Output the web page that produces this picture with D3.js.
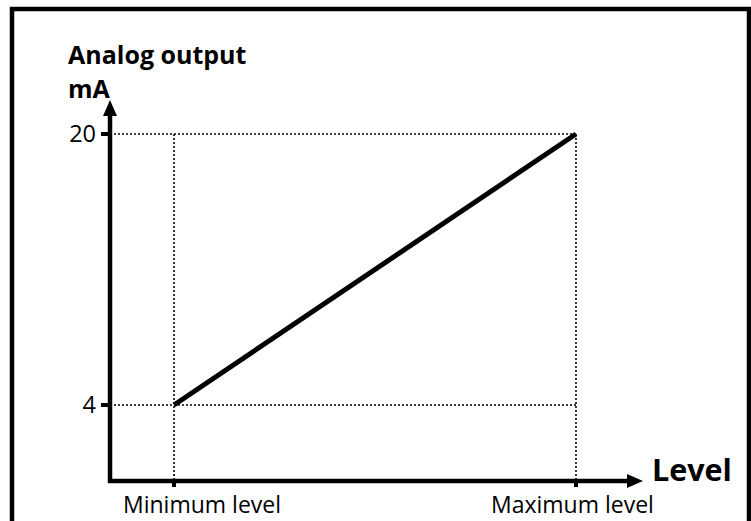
<!DOCTYPE html>
<html>
<head>
<meta charset="utf-8">
<script src="https://cdn.jsdelivr.net/npm/d3@7"></script>
<style>
  body { margin: 0; background: #fff; }
  text { font-family: "Open Sans", Lato, sans-serif; fill: #000; }
</style>
</head>
<body>
<div id="chart"></div>
<script>
// chart values
const levelNames = ["Minimum level", "Maximum level"]
const levelValues = [0, 1]
const outputValues = [4, 20]
const yTickLabels = ["4", "20"]
const yTitleLines = ["Analog output", "mA"]

const W = 751, H = 521

const svg = d3.select("#chart").append("svg")
  .attr("width", W)
  .attr("height", H)

// frame
svg.append("rect")
  .attr("x", 12).attr("y", 9)
  .attr("width", 737).attr("height", 530)
  .attr("fill", "none")
  .attr("stroke", "#000")
  .attr("stroke-width", 4.5)

const x = d3.scaleLinear().domain([0, 1]).range([174, 576])
const y = d3.scaleLinear().domain([4, 20]).range([405, 134])

const axisX0 = 110, axisY0 = 481
const g = svg.append("g")

// dotted guides
const dots = g.append("g")
  .attr("stroke", "#000")
  .attr("stroke-width", 1.6)
  .attr("stroke-dasharray", "2,2")
  .attr("fill", "none")

outputValues.forEach(v => {
  dots.append("line")
    .attr("x1", axisX0).attr("x2", x(1))
    .attr("y1", y(v)).attr("y2", y(v))
})
levelValues.forEach(v => {
  dots.append("line")
    .attr("x1", x(v)).attr("x2", x(v))
    .attr("y1", y(20)).attr("y2", axisY0)
})

// axes
g.append("line")
  .attr("x1", axisX0).attr("x2", axisX0)
  .attr("y1", axisY0 + 2).attr("y2", 112)
  .attr("stroke", "#000").attr("stroke-width", 4.5)
g.append("path")
  .attr("d", `M${axisX0 - 7},116 L${axisX0},100 L${axisX0 + 7},116 Z`)
  .attr("fill", "#000")

g.append("line")
  .attr("x1", axisX0 - 2).attr("x2", 630)
  .attr("y1", axisY0).attr("y2", axisY0)
  .attr("stroke", "#000").attr("stroke-width", 4.5)
g.append("path")
  .attr("d", `M627,${axisY0 - 7} L643,${axisY0} L627,${axisY0 + 7} Z`)
  .attr("fill", "#000")

// y ticks
outputValues.forEach((v, i) => {
  g.append("line")
    .attr("x1", axisX0 - 9).attr("x2", axisX0)
    .attr("y1", y(v)).attr("y2", y(v))
    .attr("stroke", "#000").attr("stroke-width", 4)
  g.append("text")
    .attr("x", axisX0 - 14)
    .attr("y", y(v) + 8)
    .attr("text-anchor", "end")
    .attr("font-size", 23.5)
    .text(yTickLabels[i])
})

// x ticks, labels start a bit left of the tick
levelValues.forEach((v, i) => {
  g.append("line")
    .attr("x1", x(v)).attr("x2", x(v))
    .attr("y1", axisY0).attr("y2", axisY0 + 6)
    .attr("stroke", "#000").attr("stroke-width", 4)
  g.append("text")
    .attr("x", x(v) - (i === 0 ? 51 : 85))
    .attr("y", 513)
    .attr("font-size", 23)
    .text(levelNames[i])
})

// the output line
const line = d3.line()
  .x((d, i) => x(levelValues[i]))
  .y(d => y(d))
g.append("path")
  .datum(outputValues)
  .attr("d", line)
  .attr("fill", "none")
  .attr("stroke", "#000")
  .attr("stroke-width", 5)

// axis titles, y title is one text with two lines
const yTitle = g.append("text")
  .attr("x", 68).attr("y", 64)
  .attr("font-size", 25).attr("font-weight", "bold")
yTitle.selectAll("tspan")
  .data(yTitleLines)
  .join("tspan")
    .attr("x", 68)
    .attr("dy", (d, i) => i === 0 ? 0 : 34)
    .text(d => d)

g.append("text")
  .attr("x", 652).attr("y", 481)
  .attr("font-size", 30.5).attr("font-weight", "bold")
  .text("Level")
</script>
</body>
</html>
